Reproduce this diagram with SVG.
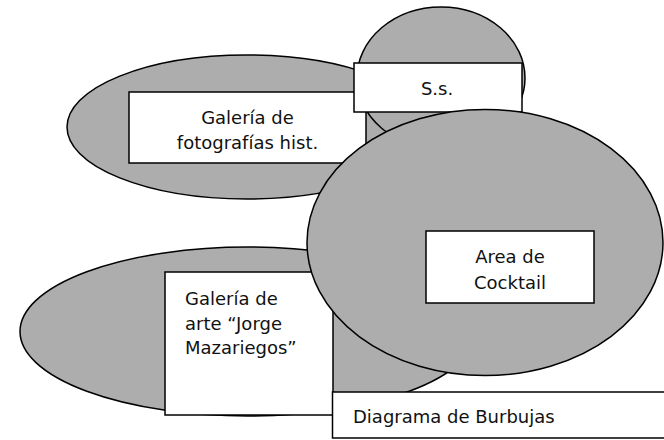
<svg xmlns="http://www.w3.org/2000/svg" width="664" height="440" viewBox="0 0 664 440">
<style>
.bub{fill:#adadad;stroke:#000;stroke-width:1.5}
.box{fill:#fff;stroke:#000;stroke-width:1.5}
.t{font-family:"DejaVu Sans",Verdana,sans-serif;font-size:18px;fill:#111}
.c{text-anchor:middle}
</style>
<rect width="664" height="440" fill="#fff"/>
<g id="bubble-fotografias"><ellipse class="bub" cx="247" cy="127" rx="180" ry="72"/></g>
<g id="bubble-ss"><ellipse class="bub" cx="441" cy="78" rx="84" ry="71"/></g>
<g id="label-fotografias">
<rect class="box" x="129" y="92" width="237" height="71"/>
<text class="t c" x="247.5" y="124">Galería de</text>
<text class="t c" x="247.5" y="149">fotografías hist.</text>
</g>
<g id="label-ss">
<rect class="box" x="354" y="63" width="168" height="49"/>
<text class="t c" x="437" y="95">S.s.</text>
</g>
<g id="bubble-arte"><ellipse class="bub" cx="248" cy="331.5" rx="228" ry="84.5"/></g>
<g id="label-arte">
<rect class="box" x="165" y="272" width="168" height="143"/>
<text class="t" x="185" y="305">Galería de</text>
<text class="t" x="185" y="329.5">arte “Jorge</text>
<text class="t" x="185" y="354">Mazariegos”</text>
</g>
<g id="bubble-cocktail"><ellipse class="bub" cx="485" cy="242.5" rx="178" ry="133"/></g>
<g id="label-cocktail">
<rect class="box" x="426" y="231" width="168" height="72"/>
<text class="t c" x="510" y="263">Area de</text>
<text class="t c" x="510" y="289">Cocktail</text>
</g>
<g id="title">
<rect class="box" x="332.5" y="392" width="340" height="46"/>
<text class="t" x="353" y="423">Diagrama de Burbujas</text>
</g>
<g id="connectors"/>
</svg>
